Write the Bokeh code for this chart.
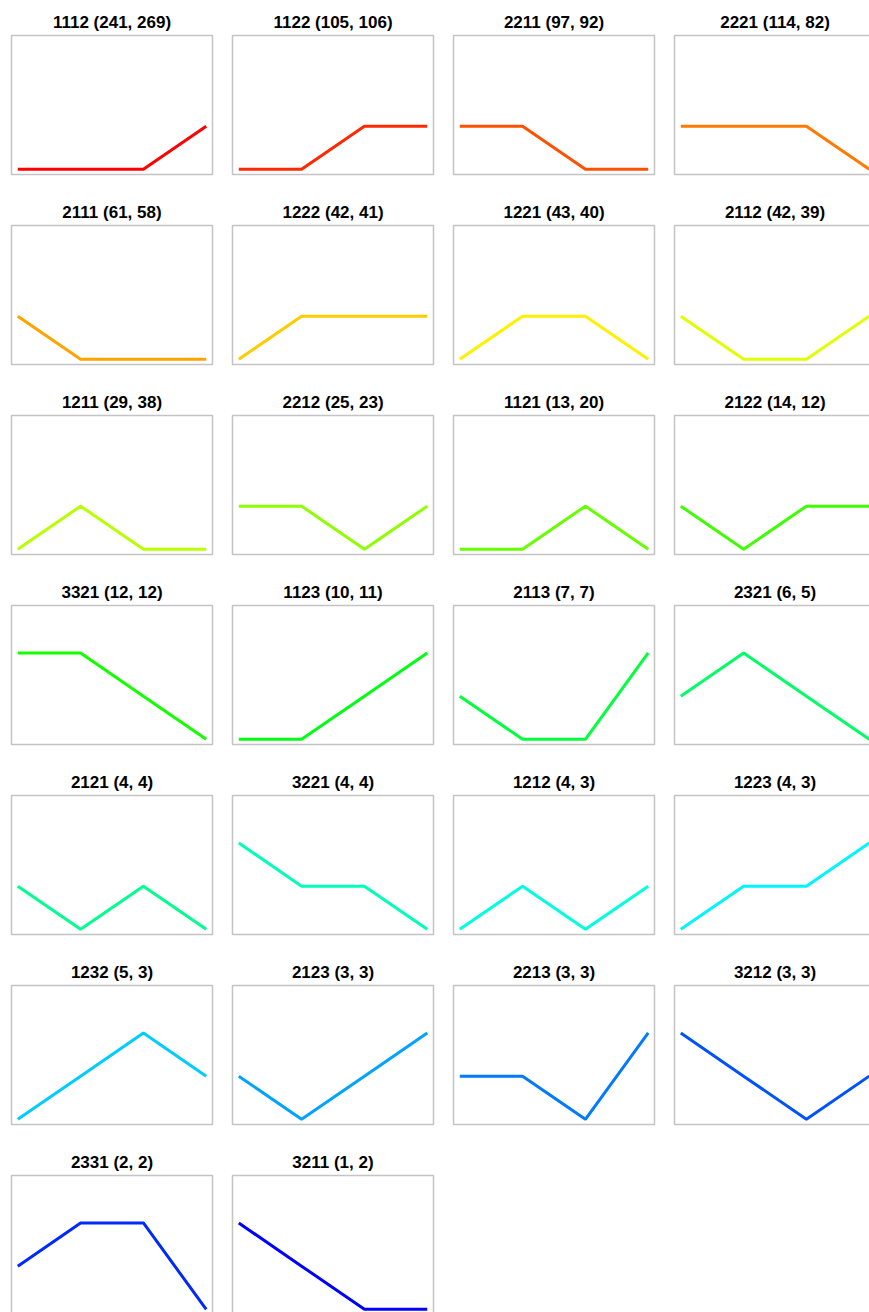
from bokeh.plotting import figure
from bokeh.layouts import gridplot
from bokeh.models import Range1d
from bokeh.embed import file_html
from bokeh.resources import INLINE

# pattern codes (each digit is the level at one of four positions)
codes = ["1112", "1122", "2211", "2221", "2111", "1222", "1221", "2112",
         "1211", "2212", "1121", "2122", "3321", "1123", "2113", "2321",
         "2121", "3221", "1212", "1223", "1232", "2123", "2213", "3212",
         "2331", "3211"]
count_a = [241, 105, 97, 114, 61, 42, 43, 42, 29, 25, 13, 14, 12, 10, 7, 6,
           4, 4, 4, 4, 5, 3, 3, 3, 2, 1]
count_b = [269, 106, 92, 82, 58, 41, 40, 39, 38, 23, 20, 12, 12, 11, 7, 5,
           4, 4, 3, 3, 3, 3, 3, 3, 2, 2]
positions = [1, 2, 3, 4]

colors = ["#ff0000", "#ff2900", "#ff5200", "#ff7a00", "#ffa300", "#ffcc00",
          "#fff000", "#e0ff00", "#b8ff00", "#8fff00", "#66ff00", "#3dff00",
          "#14ff00", "#00ff14", "#00ff3d", "#00ff66", "#00ff8f", "#00ffb8",
          "#00ffe0", "#00f5ff", "#00ccff", "#00a3ff", "#007aff", "#0052ff",
          "#0029ff", "#0000ff"]

figs = []
for code, a, b, col in zip(codes, count_a, count_b, colors):
    p = figure(title=f"{code} ({a}, {b})", frame_width=201, frame_height=139,
               x_range=Range1d(0.9, 4.1), y_range=Range1d(0.88, 4.1),
               output_backend="svg", toolbar_location=None,
               x_axis_location=None, y_axis_location=None,
               min_border_left=11, min_border_right=9,
               min_border_top=35, min_border_bottom=16)
    p.grid.visible = False
    p.outline_line_color = "#c4c4c4"
    p.outline_line_width = 1.5
    p.title.align = "center"
    p.title.text_font = "Liberation Sans"
    p.title.text_font_size = "17px"
    p.title.text_font_style = "bold"
    p.title.text_color = "#000000"
    p.title.standoff = 8
    levels = [int(ch) for ch in code]
    p.line(positions, levels, line_color=col, line_width=3)
    figs.append(p)

grid = gridplot(figs, ncols=4, toolbar_location=None)
open("out.html", "w").write(file_html(grid, INLINE))
